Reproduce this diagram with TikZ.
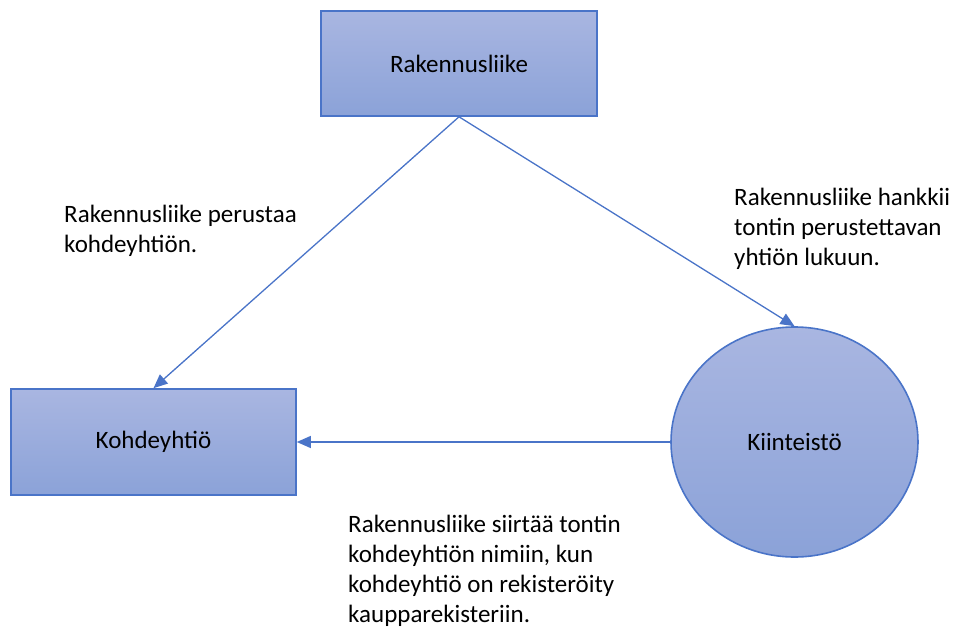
\documentclass[tikz,border=0pt]{standalone}
\usepackage{fontspec}
\setmainfont{Carlito}
\usetikzlibrary{shapes.geometric,arrows.meta}
\definecolor{edgeblue}{HTML}{4A74C8}
\definecolor{filltop}{HTML}{A9B6E1}
\definecolor{fillbot}{HTML}{8BA2D8}
\tikzset{
  entity/.style={draw=edgeblue, line width=1.6pt, top color=filltop, bottom color=fillbot,
    font=\fontsize{25}{30}\selectfont, text=black, inner sep=0pt},
  partybox/.style={entity, rectangle, minimum width=276pt, minimum height=105pt},
  flow/.style={draw=edgeblue, line width=1.3pt, -{Triangle[length=14pt,width=12pt]}},
  note/.style={font=\fontsize{25}{30}\selectfont, align=left, anchor=base west, inner sep=0pt}
}
\begin{document}
\begin{tikzpicture}[x=1pt,y=-1pt]
  \useasboundingbox (0,0) rectangle (959,629);
  % parties
  \node[partybox] (rak) at (459,63.5) {Rakennusliike};
  \node[partybox, minimum width=285pt, minimum height=106pt] (koh) at (153.5,442) {Kohdeyhtiö};
  \node[entity, ellipse, minimum width=247pt, minimum height=230pt] (kii) at (794.5,442) {Kiinteistö};
  % transactions
  \draw[flow] (rak.south) -- (koh.north);
  \draw[flow] (rak.south) -- (kii.north);
  \draw[flow] (kii.west) -- (koh.east);
  % explanations
  \node[note] (n1) at (64,252) {Rakennusliike perustaa\\kohdeyhtiön.};
  \node[note] (n2) at (734,265) {Rakennusliike hankkii\\tontin perustettavan\\yhtiön lukuun.};
  \node[note] (n3) at (348,622) {Rakennusliike siirtää tontin\\kohdeyhtiön nimiin, kun\\kohdeyhtiö on rekisteröity\\kaupparekisteriin.};
\end{tikzpicture}
\end{document}
